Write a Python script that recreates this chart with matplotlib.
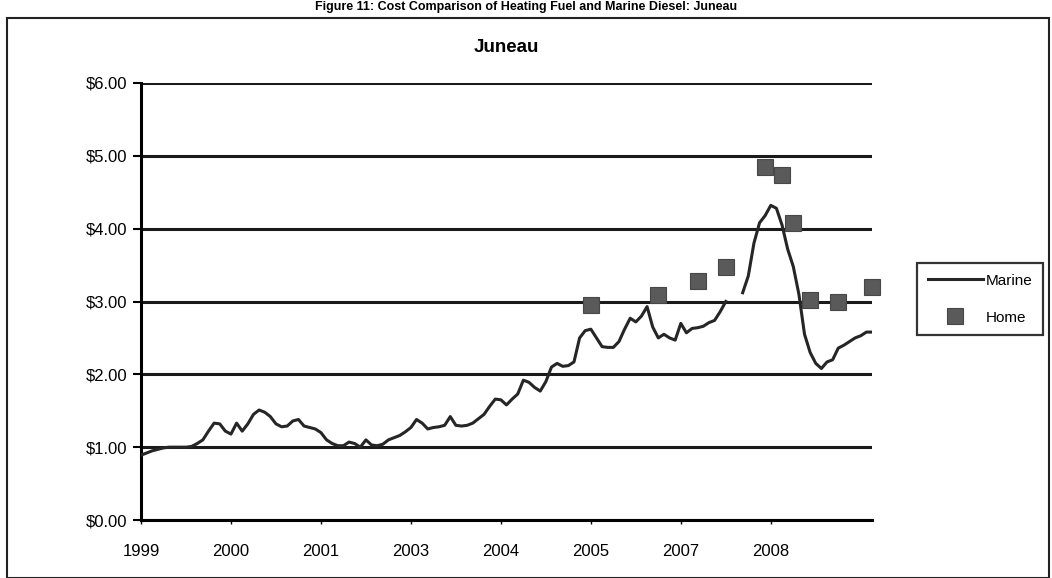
import numpy as np
import matplotlib.pyplot as plt
from matplotlib.patches import Rectangle

plt.rcParams['font.family'] = ['Liberation Sans', 'DejaVu Sans']

# Monthly marine fuel price, Jan 1999 onward ($/gal); NaN = missing month
marine = [0.89, 0.92, 0.95, 0.97, 0.99, 1.00, 1.00, 1.00, 1.00, 1.01,
          1.05, 1.10, 1.22, 1.33, 1.32, 1.22, 1.18, 1.33, 1.22, 1.32,
          1.45, 1.51, 1.48, 1.42, 1.32, 1.28, 1.29, 1.36, 1.38, 1.29,
          1.27, 1.25, 1.20, 1.10, 1.05, 1.02, 1.02, 1.07, 1.05, 1.00,
          1.10, 1.03, 1.02, 1.04, 1.10, 1.13, 1.16, 1.21, 1.27, 1.38,
          1.33, 1.25, 1.27, 1.28, 1.30, 1.42, 1.30, 1.29, 1.30, 1.33,
          1.39, 1.45, 1.56, 1.66, 1.65, 1.58, 1.66, 1.73, 1.92, 1.89,
          1.82, 1.77, 1.90, 2.10, 2.15, 2.11, 2.12, 2.17, 2.50, 2.60,
          2.62, 2.50, 2.38, 2.37, 2.37, 2.45, 2.62, 2.77, 2.72, 2.80,
          2.93, 2.65, 2.50, 2.55, 2.50, 2.47, 2.70, 2.57, 2.63, 2.64,
          2.66, 2.71, 2.74, 2.86, 3.00, np.nan, np.nan, 3.12, 3.35, 3.80,
          4.08, 4.18, 4.32, 4.28, 4.05, 3.72, 3.48, 3.10, 2.55, 2.30,
          2.15, 2.08, 2.17, 2.20, 2.36, 2.40, 2.45, 2.50, 2.53, 2.58,
          2.58]

# Home heating fuel survey points (month index, price)
home_month = [80, 92, 99, 104, 111, 114, 116, 119, 124, 130]
home_price = [2.95, 3.09, 3.28, 3.48, 4.85, 4.74, 4.08, 3.02, 3.00, 3.20]

tick_pos = [0, 16, 32, 48, 64, 80, 96, 112]
tick_labels = ['1999', '2000', '2001', '2003', '2004', '2005', '2007', '2008']
y_ticks = [0, 1, 2, 3, 4, 5, 6]

fig = plt.figure(figsize=(10.52, 5.78), dpi=100)
ax = fig.add_axes([141/1052, 1 - 520/578, (872-141)/1052, (520-83)/578])

months = np.arange(len(marine))
ax.plot(months, marine, color='#262626', lw=2.2, label='Marine', zorder=3)
ax.plot(home_month, home_price, ls='none', marker='s', ms=11,
        mfc='#5a5a5a', mec='#474747', mew=0.8, label='Home', zorder=4,
        clip_on=False)

ax.set_xlim(0, 130)
ax.set_ylim(0, 6)
ax.set_yticks(y_ticks)
ax.set_yticklabels([f'${v:.2f}' for v in y_ticks], fontsize=12)
ax.set_xticks(tick_pos)
ax.set_xticklabels(tick_labels, fontsize=12)
ax.tick_params(axis='y', direction='out', length=6, width=1.5, pad=4)
ax.tick_params(axis='x', direction='out', length=3, width=1, pad=14)

ax.yaxis.grid(True, color='#1a1a1a', lw=2.2)
ax.set_axisbelow(True)
for s in ['top', 'right']:
    ax.spines[s].set_visible(False)
ax.spines['left'].set_linewidth(2.2)
ax.spines['bottom'].set_linewidth(2.2)

ax.set_title('Juneau', fontsize=13.5, fontweight='bold', pad=22)

leg = fig.legend(loc='upper left', bbox_to_anchor=(917/1052, 1 - 263/578),
                 frameon=True, fancybox=False, fontsize=11,
                 handlelength=3.6, borderpad=0.7, labelspacing=1.5,
                 handletextpad=0.2, borderaxespad=0)
leg.get_frame().set_edgecolor('black')
leg.get_frame().set_linewidth(1.6)

# chart area border and the page caption above it
fig.patches.append(Rectangle((7/1052, 0), (1049-7)/1052, 1 - 18/578,
                             transform=fig.transFigure, fill=False,
                             edgecolor='#222222', lw=1.5))
fig.text(0.5, 1 - 1/578, 'Figure 11: Cost Comparison of Heating Fuel and Marine Diesel: Juneau',
         ha='center', va='top', fontsize=9, fontweight='bold')

fig.savefig('out.png', dpi=100)
